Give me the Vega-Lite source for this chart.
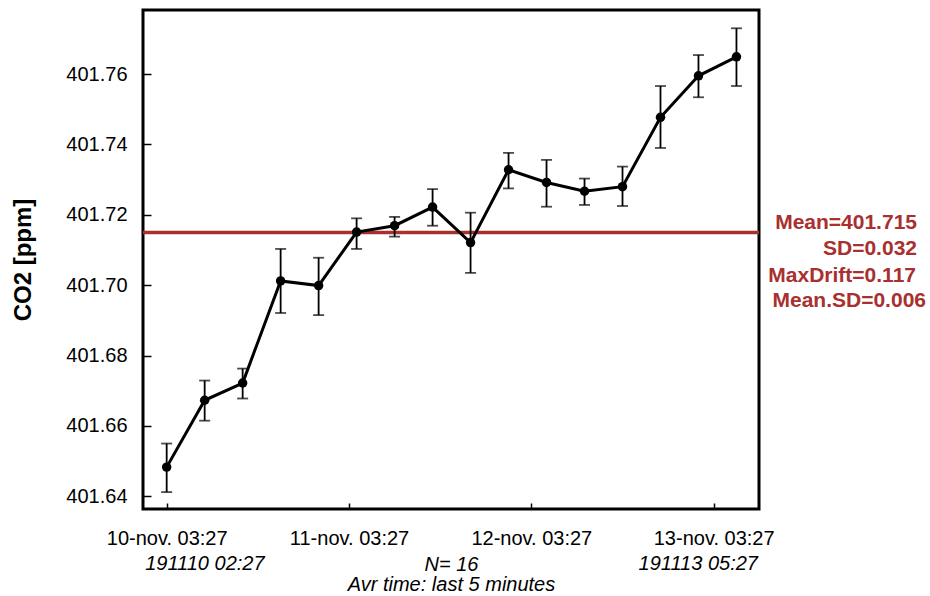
{
  "$schema": "https://vega.github.io/schema/vega-lite/v6.json",
  "width": 616,
  "height": 499,
  "autosize": "none",
  "padding": {"left": 143, "top": 10, "right": 171, "bottom": 87},
  "background": "white",
  "config": {
    "font": "Liberation Sans",
    "view": {"stroke": "black", "strokeWidth": 3},
    "axis": {"domain": false, "grid": false, "labelColor": "black", "titleColor": "black", "tickColor": "black", "tickWidth": 1.5}
  },
  "data": {
    "values": [
      {"time": "2019-11-10T03:27:00", "co2": 401.6483, "lo": 401.6412, "hi": 401.6550},
      {"time": "2019-11-10T08:27:00", "co2": 401.6673, "lo": 401.6615, "hi": 401.6729},
      {"time": "2019-11-10T13:27:00", "co2": 401.6722, "lo": 401.6678, "hi": 401.6763},
      {"time": "2019-11-10T18:27:00", "co2": 401.7012, "lo": 401.6921, "hi": 401.7103},
      {"time": "2019-11-10T23:27:00", "co2": 401.6999, "lo": 401.6915, "hi": 401.7078},
      {"time": "2019-11-11T04:27:00", "co2": 401.7151, "lo": 401.7103, "hi": 401.7190},
      {"time": "2019-11-11T09:27:00", "co2": 401.7169, "lo": 401.7138, "hi": 401.7194},
      {"time": "2019-11-11T14:27:00", "co2": 401.7222, "lo": 401.7169, "hi": 401.7273},
      {"time": "2019-11-11T19:27:00", "co2": 401.7121, "lo": 401.7035, "hi": 401.7206},
      {"time": "2019-11-12T00:27:00", "co2": 401.7328, "lo": 401.7275, "hi": 401.7376},
      {"time": "2019-11-12T05:27:00", "co2": 401.7292, "lo": 401.7223, "hi": 401.7356},
      {"time": "2019-11-12T10:27:00", "co2": 401.7267, "lo": 401.7228, "hi": 401.7303},
      {"time": "2019-11-12T15:27:00", "co2": 401.7280, "lo": 401.7225, "hi": 401.7337},
      {"time": "2019-11-12T20:27:00", "co2": 401.7477, "lo": 401.7390, "hi": 401.7566},
      {"time": "2019-11-13T01:27:00", "co2": 401.7595, "lo": 401.7534, "hi": 401.7654},
      {"time": "2019-11-13T06:27:00", "co2": 401.7649, "lo": 401.7566, "hi": 401.7730}
    ]
  },
  "layer": [
    {
      "mark": {"type": "rule", "color": "#a8302e", "strokeWidth": 3.5},
      "data": {"values": [{"mean": 401.715}]},
      "encoding": {
        "y": {"field": "mean", "type": "quantitative", "title": "CO2 [ppm]"}
      }
    },
    {
      "mark": {"type": "errorbar", "color": "black", "thickness": 1.8, "ticks": {"size": 11}},
      "encoding": {
        "x": {
          "field": "time", "type": "temporal",
          "scale": {"domain": [{"year": 2019, "month": 11, "date": 10, "hours": 0, "minutes": 20}, {"year": 2019, "month": 11, "date": 13, "hours": 9, "minutes": 25}]},
          "axis": {
            "values": [
              {"year": 2019, "month": 11, "date": 10, "hours": 3, "minutes": 27},
              {"year": 2019, "month": 11, "date": 11, "hours": 3, "minutes": 27},
              {"year": 2019, "month": 11, "date": 12, "hours": 3, "minutes": 27},
              {"year": 2019, "month": 11, "date": 13, "hours": 3, "minutes": 27}
            ],
            "format": "%d-nov. %H:%M",
            "labelFontSize": 20,
            "labelFlush": false,
            "labelOverlap": false,
            "tickSize": -6,
            "labelPadding": 25,
            "title": ["N= 16", "Avr time: last 5 minutes"],
            "titleFontSize": 20,
            "titleFontStyle": "italic",
            "titleFontWeight": "normal",
            "titleLineHeight": 20,
            "titlePadding": 6
          }
        },
        "y": {
          "field": "lo", "type": "quantitative",
          "scale": {"domain": [401.6364, 401.7782], "zero": false, "nice": false},
          "axis": {
            "values": [401.64, 401.66, 401.68, 401.70, 401.72, 401.74, 401.76],
            "format": ".2f",
            "labelFontSize": 20,
            "tickSize": -8,
            "labelPadding": 24,
            "title": "CO2 [ppm]",
            "titleFontSize": 24,
            "titleFontWeight": "bold",
            "titlePadding": 30
          }
        },
        "y2": {"field": "hi"}
      }
    },
    {
      "mark": {"type": "line", "color": "black", "strokeWidth": 3},
      "encoding": {
        "x": {"field": "time", "type": "temporal", "title": ["N= 16", "Avr time: last 5 minutes"]},
        "y": {"field": "co2", "type": "quantitative", "title": "CO2 [ppm]"}
      }
    },
    {
      "mark": {"type": "point", "filled": true, "color": "black", "size": 90, "opacity": 1},
      "encoding": {
        "x": {"field": "time", "type": "temporal", "title": ["N= 16", "Avr time: last 5 minutes"]},
        "y": {"field": "co2", "type": "quantitative", "title": "CO2 [ppm]"}
      }
    },
    {
      "data": {"values": [{"label": "Mean=401.715"}]},
      "mark": {"type": "text", "align": "right", "baseline": "alphabetic", "dx": 158, "dy": -3.4, "fontSize": 21, "fontWeight": "bold", "color": "#a8302e"},
      "encoding": {
        "text": {"field": "label"},
        "x": {"datum": {"year": 2019, "month": 11, "date": 13, "hours": 9, "minutes": 25}, "type": "temporal", "title": ["N= 16", "Avr time: last 5 minutes"]},
        "y": {"datum": 401.715, "type": "quantitative", "title": "CO2 [ppm]"}
      }
    },
    {
      "data": {"values": [{"label": "SD=0.032"}]},
      "mark": {"type": "text", "align": "right", "baseline": "alphabetic", "dx": 158, "dy": 22.6, "fontSize": 21, "fontWeight": "bold", "color": "#a8302e"},
      "encoding": {
        "text": {"field": "label"},
        "x": {"datum": {"year": 2019, "month": 11, "date": 13, "hours": 9, "minutes": 25}, "type": "temporal", "title": ["N= 16", "Avr time: last 5 minutes"]},
        "y": {"datum": 401.715, "type": "quantitative", "title": "CO2 [ppm]"}
      }
    },
    {
      "data": {"values": [{"label": "MaxDrift=0.117"}]},
      "mark": {"type": "text", "align": "right", "baseline": "alphabetic", "dx": 157, "dy": 49.3, "fontSize": 21, "fontWeight": "bold", "color": "#a8302e"},
      "encoding": {
        "text": {"field": "label"},
        "x": {"datum": {"year": 2019, "month": 11, "date": 13, "hours": 9, "minutes": 25}, "type": "temporal", "title": ["N= 16", "Avr time: last 5 minutes"]},
        "y": {"datum": 401.715, "type": "quantitative", "title": "CO2 [ppm]"}
      }
    },
    {
      "data": {"values": [{"label": "Mean.SD=0.006"}]},
      "mark": {"type": "text", "align": "right", "baseline": "alphabetic", "dx": 167, "dy": 75, "fontSize": 21, "fontWeight": "bold", "color": "#a8302e"},
      "encoding": {
        "text": {"field": "label"},
        "x": {"datum": {"year": 2019, "month": 11, "date": 13, "hours": 9, "minutes": 25}, "type": "temporal", "title": ["N= 16", "Avr time: last 5 minutes"]},
        "y": {"datum": 401.715, "type": "quantitative", "title": "CO2 [ppm]"}
      }
    },
    {
      "data": {"values": [{"label": "191110 02:27"}]},
      "mark": {"type": "text", "align": "left", "baseline": "alphabetic", "dx": -21.5, "dy": 60.5, "fontSize": 20, "fontStyle": "italic", "color": "black"},
      "encoding": {
        "text": {"field": "label"},
        "x": {"datum": {"year": 2019, "month": 11, "date": 10, "hours": 3, "minutes": 27}, "type": "temporal", "title": ["N= 16", "Avr time: last 5 minutes"]},
        "y": {"datum": 401.6364, "type": "quantitative", "title": "CO2 [ppm]"}
      }
    },
    {
      "data": {"values": [{"label": "191113 05:27"}]},
      "mark": {"type": "text", "align": "right", "baseline": "alphabetic", "dx": 21.5, "dy": 60.5, "fontSize": 20, "fontStyle": "italic", "color": "black"},
      "encoding": {
        "text": {"field": "label"},
        "x": {"datum": {"year": 2019, "month": 11, "date": 13, "hours": 6, "minutes": 27}, "type": "temporal", "title": ["N= 16", "Avr time: last 5 minutes"]},
        "y": {"datum": 401.6364, "type": "quantitative", "title": "CO2 [ppm]"}
      }
    }
  ]
}
